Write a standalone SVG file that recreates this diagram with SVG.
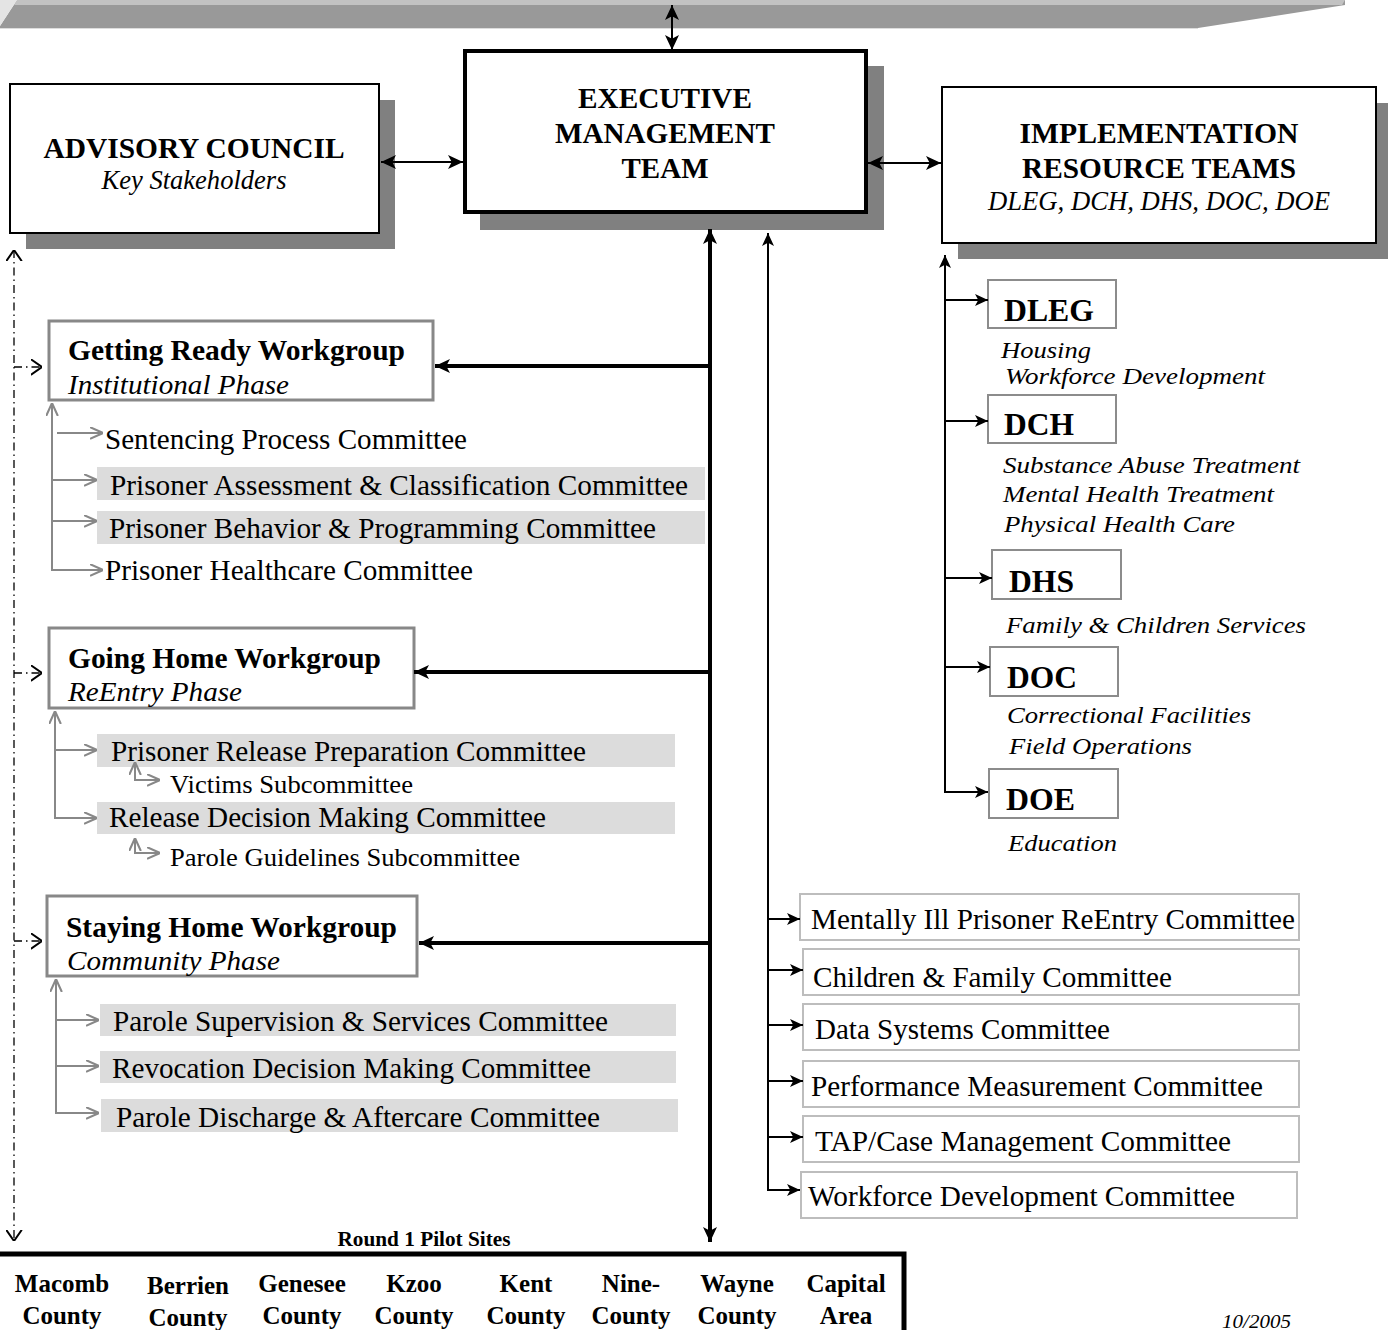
<svg xmlns="http://www.w3.org/2000/svg" width="1388" height="1330" viewBox="0 0 1388 1330">
<style>
text{font-family:"Liberation Serif","Times New Roman",serif;fill:#000}
.h{font-size:29px;font-weight:bold}
.hs{font-size:27px;font-style:italic}
.c{font-size:29px}
.sub{font-size:25px}
.rt{font-size:24px;font-style:italic}
.dep{font-size:31px;font-weight:bold}
.cty{font-size:25px;font-weight:bold;text-anchor:middle}
.box{fill:#fff;stroke:#000;stroke-width:2}
.shadow{fill:#808080}
.wg{fill:#fff;stroke:#888;stroke-width:3}
.dbox{fill:#fff;stroke:#8c8c8c;stroke-width:2}
.cbox{fill:#fff;stroke:#bdbdbd;stroke-width:2}
.hl{fill:#dcdcdc}
.k{fill:none;stroke:#000;stroke-width:2}
.kt{fill:none;stroke:#000;stroke-width:4}
.g{fill:none;stroke:#888;stroke-width:2}
.dd{fill:none;stroke:#000;stroke-width:1.3;stroke-dasharray:8,4,1.5,4}
</style>
<defs>
<marker id="ab" viewBox="0 0 10 10" refX="10" refY="5" markerWidth="15" markerHeight="14" markerUnits="userSpaceOnUse" orient="auto-start-reverse" preserveAspectRatio="none"><path d="M0,0 L10,5 L0,10 L2.5,5 z" fill="#000"/></marker>
<marker id="abs" viewBox="0 0 10 10" refX="10" refY="5" markerWidth="13" markerHeight="12" markerUnits="userSpaceOnUse" orient="auto-start-reverse" preserveAspectRatio="none"><path d="M0,0 L10,5 L0,10 L2.5,5 z" fill="#000"/></marker>
<marker id="ag" viewBox="0 0 10 10" refX="10" refY="5" markerWidth="13" markerHeight="13" markerUnits="userSpaceOnUse" orient="auto-start-reverse" preserveAspectRatio="none"><path d="M0,0.5 L10,5 L0,9.5" fill="none" stroke="#888" stroke-width="1.6"/></marker>
<marker id="ao" viewBox="0 0 10 10" refX="10" refY="5" markerWidth="11" markerHeight="17" markerUnits="userSpaceOnUse" orient="auto-start-reverse" preserveAspectRatio="none"><path d="M0,0.5 L10,5 L0,9.5" fill="none" stroke="#000" stroke-width="1.3"/></marker>
</defs>

<!-- top banner -->
<g id="banner">
<polygon points="17,0 1345,0 1345,5 1198,28 0,28 0,26" fill="#999"/>
<polygon points="17,0 1345,0 1342,5 14,5" fill="#c2c2c2"/>
<polygon points="0,0 17,0 0,26" fill="#e4e4e4"/>
<line x1="0" y1="28.5" x2="1198" y2="28.5" stroke="#ddd" stroke-width="1"/>
</g>

<g id="advisory-council">
<rect class="shadow" x="26" y="100" width="369" height="149"/>
<rect class="box" x="10" y="84" width="369" height="149"/>
<text class="h" x="194" y="158" text-anchor="middle" textLength="301" lengthAdjust="spacingAndGlyphs">ADVISORY COUNCIL</text>
<text class="hs" x="194" y="189" text-anchor="middle" textLength="185" lengthAdjust="spacingAndGlyphs">Key Stakeholders</text>
</g>

<g id="executive-management-team">
<rect class="shadow" x="480" y="66" width="404" height="164"/>
<rect x="465" y="51" width="401" height="161" fill="#fff" stroke="#000" stroke-width="4"/>
<text class="h" x="665" y="108" text-anchor="middle" textLength="174" lengthAdjust="spacingAndGlyphs">EXECUTIVE</text>
<text class="h" x="665" y="143" text-anchor="middle" textLength="220" lengthAdjust="spacingAndGlyphs">MANAGEMENT</text>
<text class="h" x="665" y="178" text-anchor="middle" textLength="87" lengthAdjust="spacingAndGlyphs">TEAM</text>
</g>

<g id="implementation-resource-teams">
<rect class="shadow" x="958" y="103" width="430" height="156"/>
<rect class="box" x="942" y="87" width="434" height="156"/>
<text class="h" x="1159" y="143" text-anchor="middle" textLength="279" lengthAdjust="spacingAndGlyphs">IMPLEMENTATION</text>
<text class="h" x="1159" y="178" text-anchor="middle" textLength="274" lengthAdjust="spacingAndGlyphs">RESOURCE TEAMS</text>
<text class="hs" x="1159" y="210" text-anchor="middle" textLength="342" lengthAdjust="spacingAndGlyphs">DLEG, DCH, DHS, DOC, DOE</text>
</g>

<g id="dleg">
<rect class="dbox" x="988" y="280" width="128" height="48"/>
<text class="dep" x="1004" y="321" textLength="90" lengthAdjust="spacingAndGlyphs">DLEG</text>
<text class="rt" x="1001" y="358" textLength="90" lengthAdjust="spacingAndGlyphs">Housing</text>
<text class="rt" x="1005" y="384" textLength="260" lengthAdjust="spacingAndGlyphs">Workforce Development</text>
</g>
<g id="dch">
<rect class="dbox" x="988" y="395" width="128" height="48"/>
<text class="dep" x="1004" y="435" textLength="70" lengthAdjust="spacingAndGlyphs">DCH</text>
<text class="rt" x="1003" y="473" textLength="297" lengthAdjust="spacingAndGlyphs">Substance Abuse Treatment</text>
<text class="rt" x="1003" y="502" textLength="271" lengthAdjust="spacingAndGlyphs">Mental Health Treatment</text>
<text class="rt" x="1004" y="532" textLength="231" lengthAdjust="spacingAndGlyphs">Physical Health Care</text>
</g>
<g id="dhs">
<rect class="dbox" x="992" y="550" width="129" height="49"/>
<text class="dep" x="1009" y="592" textLength="65" lengthAdjust="spacingAndGlyphs">DHS</text>
<text class="rt" x="1006" y="633" textLength="300" lengthAdjust="spacingAndGlyphs">Family &amp; Children Services</text>
</g>
<g id="doc">
<rect class="dbox" x="990" y="647" width="128" height="49"/>
<text class="dep" x="1007" y="688" textLength="70" lengthAdjust="spacingAndGlyphs">DOC</text>
<text class="rt" x="1007" y="723" textLength="244" lengthAdjust="spacingAndGlyphs">Correctional Facilities</text>
<text class="rt" x="1009" y="754" textLength="183" lengthAdjust="spacingAndGlyphs">Field Operations</text>
</g>
<g id="doe">
<rect class="dbox" x="989" y="769" width="129" height="49"/>
<text class="dep" x="1006" y="810" textLength="69" lengthAdjust="spacingAndGlyphs">DOE</text>
<text class="rt" x="1008" y="851" textLength="109" lengthAdjust="spacingAndGlyphs">Education</text>
</g>

<g id="getting-ready-workgroup">
<rect class="wg" x="49" y="321" width="384" height="79"/>
<text class="h" x="68" y="360" textLength="337" lengthAdjust="spacingAndGlyphs">Getting Ready Workgroup</text>
<text class="hs" x="68" y="394" textLength="221" lengthAdjust="spacingAndGlyphs">Institutional Phase</text>
</g>
<g id="sentencing-process"><text class="c" x="105" y="449" textLength="362" lengthAdjust="spacingAndGlyphs">Sentencing Process Committee</text></g>
<g id="prisoner-assessment"><rect class="hl" x="97" y="467" width="608" height="33"/><text class="c" x="110" y="495" textLength="578" lengthAdjust="spacingAndGlyphs">Prisoner Assessment &amp; Classification Committee</text></g>
<g id="prisoner-behavior"><rect class="hl" x="97" y="511" width="608" height="33"/><text class="c" x="109" y="538" textLength="547" lengthAdjust="spacingAndGlyphs">Prisoner Behavior &amp; Programming Committee</text></g>
<g id="prisoner-healthcare"><text class="c" x="105" y="580" textLength="368" lengthAdjust="spacingAndGlyphs">Prisoner Healthcare Committee</text></g>

<g id="going-home-workgroup">
<rect class="wg" x="49" y="628" width="365" height="80"/>
<text class="h" x="68" y="668" textLength="313" lengthAdjust="spacingAndGlyphs">Going Home Workgroup</text>
<text class="hs" x="68" y="701" textLength="174" lengthAdjust="spacingAndGlyphs">ReEntry Phase</text>
</g>
<g id="prisoner-release-prep"><rect class="hl" x="97" y="734" width="578" height="33"/><text class="c" x="111" y="761" textLength="475" lengthAdjust="spacingAndGlyphs">Prisoner Release Preparation Committee</text></g>
<g id="victims-sub"><text class="sub" x="170" y="793" textLength="243" lengthAdjust="spacingAndGlyphs">Victims Subcommittee</text></g>
<g id="release-decision"><rect class="hl" x="97" y="802" width="578" height="32"/><text class="c" x="109" y="827" textLength="437" lengthAdjust="spacingAndGlyphs">Release Decision Making Committee</text></g>
<g id="parole-guidelines-sub"><text class="sub" x="170" y="866" textLength="350" lengthAdjust="spacingAndGlyphs">Parole Guidelines Subcommittee</text></g>

<g id="staying-home-workgroup">
<rect class="wg" x="47" y="896" width="370" height="80"/>
<text class="h" x="66" y="937" textLength="331" lengthAdjust="spacingAndGlyphs">Staying Home Workgroup</text>
<text class="hs" x="67" y="970" textLength="213" lengthAdjust="spacingAndGlyphs">Community Phase</text>
</g>
<g id="parole-supervision"><rect class="hl" x="100" y="1004" width="576" height="32"/><text class="c" x="113" y="1031" textLength="495" lengthAdjust="spacingAndGlyphs">Parole Supervision &amp; Services Committee</text></g>
<g id="revocation-decision"><rect class="hl" x="100" y="1051" width="576" height="32"/><text class="c" x="112" y="1078" textLength="479" lengthAdjust="spacingAndGlyphs">Revocation Decision Making Committee</text></g>
<g id="parole-discharge"><rect class="hl" x="101" y="1099" width="577" height="33"/><text class="c" x="116" y="1127" textLength="484" lengthAdjust="spacingAndGlyphs">Parole Discharge &amp; Aftercare Committee</text></g>

<g id="mentally-ill"><rect class="cbox" x="800" y="894" width="499" height="46"/><text class="c" x="811" y="929" textLength="484" lengthAdjust="spacingAndGlyphs">Mentally Ill Prisoner ReEntry Committee</text></g>
<g id="children-family"><rect class="cbox" x="803" y="949" width="496" height="46"/><text class="c" x="813" y="987" textLength="359" lengthAdjust="spacingAndGlyphs">Children &amp; Family Committee</text></g>
<g id="data-systems"><rect class="cbox" x="803" y="1004" width="496" height="46"/><text class="c" x="815" y="1039" textLength="295" lengthAdjust="spacingAndGlyphs">Data Systems Committee</text></g>
<g id="performance-measurement"><rect class="cbox" x="803" y="1061" width="496" height="46"/><text class="c" x="811" y="1096" textLength="452" lengthAdjust="spacingAndGlyphs">Performance Measurement Committee</text></g>
<g id="tap-case-management"><rect class="cbox" x="803" y="1116" width="496" height="46"/><text class="c" x="815" y="1151" textLength="416" lengthAdjust="spacingAndGlyphs">TAP/Case Management Committee</text></g>
<g id="workforce-development"><rect class="cbox" x="801" y="1172" width="496" height="46"/><text class="c" x="808" y="1206" textLength="427" lengthAdjust="spacingAndGlyphs">Workforce Development Committee</text></g>

<g id="pilot-sites">
<text x="424" y="1246" text-anchor="middle" font-size="20" font-weight="bold" textLength="173" lengthAdjust="spacingAndGlyphs">Round 1 Pilot Sites</text>
<rect x="-3" y="1254" width="907" height="100" fill="#fff" stroke="#000" stroke-width="5"/>
<text class="cty" x="62" y="1292">Macomb</text><text class="cty" x="62" y="1324">County</text>
<text class="cty" x="188" y="1294">Berrien</text><text class="cty" x="188" y="1326">County</text>
<text class="cty" x="302" y="1292">Genesee</text><text class="cty" x="302" y="1324">County</text>
<text class="cty" x="414" y="1292">Kzoo</text><text class="cty" x="414" y="1324">County</text>
<text class="cty" x="526" y="1292">Kent</text><text class="cty" x="526" y="1324">County</text>
<text class="cty" x="631" y="1292">Nine-</text><text class="cty" x="631" y="1324">County</text>
<text class="cty" x="737" y="1292">Wayne</text><text class="cty" x="737" y="1324">County</text>
<text class="cty" x="846" y="1292">Capital</text><text class="cty" x="846" y="1324">Area</text>
</g>

<g id="date"><text x="1222" y="1328" font-size="18" font-style="italic" textLength="69" lengthAdjust="spacingAndGlyphs">10/2005</text></g>

<g id="connectors">
<line class="k" x1="672" y1="5" x2="672" y2="50" marker-start="url(#ab)" marker-end="url(#ab)"/>
<line class="k" x1="381" y1="162" x2="463" y2="162" marker-start="url(#ab)" marker-end="url(#ab)"/>
<line class="k" x1="868" y1="163" x2="941" y2="163" marker-start="url(#ab)" marker-end="url(#ab)"/>
<line class="kt" x1="710" y1="229" x2="710" y2="1242" marker-start="url(#ab)" marker-end="url(#ab)"/>
<line class="kt" x1="708" y1="366" x2="435" y2="366" marker-end="url(#ab)"/>
<line class="kt" x1="708" y1="672" x2="414" y2="672" marker-end="url(#ab)"/>
<line class="kt" x1="708" y1="943" x2="419" y2="943" marker-end="url(#ab)"/>

<path class="k" d="M768,233 V1190 H800" marker-start="url(#abs)" marker-end="url(#abs)"/>
<line class="k" x1="768" y1="919" x2="800" y2="919" marker-end="url(#abs)"/>
<line class="k" x1="768" y1="970" x2="803" y2="970" marker-end="url(#abs)"/>
<line class="k" x1="768" y1="1025" x2="803" y2="1025" marker-end="url(#abs)"/>
<line class="k" x1="768" y1="1081" x2="803" y2="1081" marker-end="url(#abs)"/>
<line class="k" x1="768" y1="1137" x2="803" y2="1137" marker-end="url(#abs)"/>

<path class="k" d="M945,255 V792 H988" marker-start="url(#abs)" marker-end="url(#abs)"/>
<line class="k" x1="945" y1="300" x2="988" y2="300" marker-end="url(#abs)"/>
<line class="k" x1="945" y1="421" x2="988" y2="421" marker-end="url(#abs)"/>
<line class="k" x1="945" y1="578" x2="992" y2="578" marker-end="url(#abs)"/>
<line class="k" x1="945" y1="667" x2="990" y2="667" marker-end="url(#abs)"/>

<path class="g" d="M103,570 H52 V403" marker-start="url(#ag)" marker-end="url(#ag)"/>
<line class="g" x1="57" y1="433" x2="103" y2="433" marker-end="url(#ag)"/>
<line class="g" x1="52" y1="480" x2="97" y2="480" marker-end="url(#ag)"/>
<line class="g" x1="52" y1="521" x2="97" y2="521" marker-end="url(#ag)"/>

<path class="g" d="M97,818 H55 V711" marker-start="url(#ag)" marker-end="url(#ag)"/>
<line class="g" x1="55" y1="750" x2="97" y2="750" marker-end="url(#ag)"/>
<path class="g" d="M135,762 V780 H160" marker-start="url(#ag)" marker-end="url(#ag)"/>
<path class="g" d="M135,838 V853 H160" marker-start="url(#ag)" marker-end="url(#ag)"/>

<path class="g" d="M99,1113 H56 V979" marker-start="url(#ag)" marker-end="url(#ag)"/>
<line class="g" x1="56" y1="1020" x2="99" y2="1020" marker-end="url(#ag)"/>
<line class="g" x1="56" y1="1066" x2="99" y2="1066" marker-end="url(#ag)"/>

<line class="dd" x1="14" y1="250" x2="14" y2="1241" marker-start="url(#ao)" marker-end="url(#ao)"/>
<line class="dd" x1="14" y1="367" x2="42" y2="367" marker-end="url(#ao)"/>
<line class="dd" x1="14" y1="673" x2="42" y2="673" marker-end="url(#ao)"/>
<line class="dd" x1="14" y1="941" x2="42" y2="941" marker-end="url(#ao)"/>
</g>
</svg>
